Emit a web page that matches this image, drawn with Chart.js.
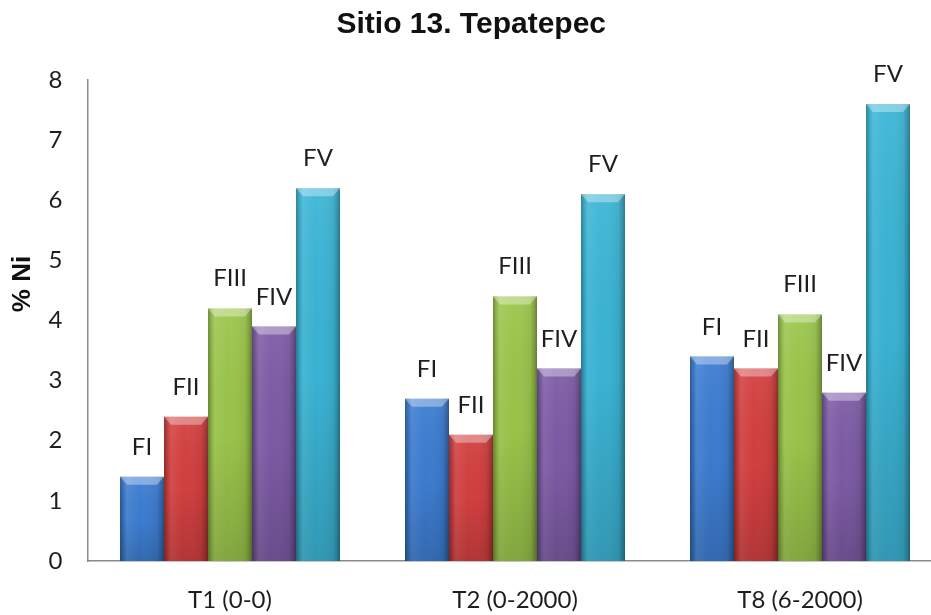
<!DOCTYPE html>
<html>
<head>
<meta charset="utf-8">
<script src="https://cdn.jsdelivr.net/npm/chart.js@4/dist/chart.umd.min.js"></script>
<style>
  html, body { margin: 0; padding: 0; background: #ffffff; overflow: hidden; }
  #wrap { width: 944px; height: 615px; }
</style>
</head>
<body>
<div id="wrap"><canvas id="chart" width="944" height="615"></canvas></div>
<script>
// Treatments on the x axis
const categories = ['T1 (0-0)', 'T2 (0-2000)', 'T8 (6-2000)'];

// Nickel fractions (% Ni) per treatment
const fractionNames = ['FI', 'FII', 'FIII', 'FIV', 'FV'];
const FI   = [1.4, 2.7, 3.4];
const FII  = [2.4, 2.1, 3.2];
const FIII = [4.2, 4.4, 4.1];
const FIV  = [3.9, 3.2, 2.8];
const FV   = [6.2, 6.1, 7.6];

// Y axis range
const yMin = 0;
const yMax = 8;
const yStep = 1;

const seriesValues = [FI, FII, FIII, FIV, FV];
const seriesColors = ['#3C7DD2', '#D43F3F', '#9BC64A', '#7D5BA6', '#3AB5D6'];

const labelFont = '24px Lato, "Open Sans", sans-serif';

// Gives each bar a rounded, bevelled look on top of its flat fill
const bevelPlugin = {
  id: 'bevel',
  afterDatasetsDraw(chart) {
    const ctx = chart.ctx;
    chart.data.datasets.forEach((ds, i) => {
      const meta = chart.getDatasetMeta(i);
      meta.data.forEach(el => {
        const { x, y, base, width } = el.getProps(['x', 'y', 'base', 'width'], true);
        const left = x - width / 2, right = x + width / 2;
        const h = base - y;
        ctx.save();
        // shading across the bar
        const g = ctx.createLinearGradient(left, 0, right, 0);
        g.addColorStop(0.00, 'rgba(0,0,0,0.32)');
        g.addColorStop(0.08, 'rgba(0,0,0,0.10)');
        g.addColorStop(0.16, 'rgba(255,255,255,0.08)');
        g.addColorStop(0.45, 'rgba(255,255,255,0.00)');
        g.addColorStop(0.85, 'rgba(0,0,0,0.06)');
        g.addColorStop(0.94, 'rgba(0,0,0,0.22)');
        g.addColorStop(1.00, 'rgba(0,0,0,0.38)');
        ctx.fillStyle = g;
        ctx.fillRect(left, y, width, h);
        // lighter near the top, darker towards the base
        const gv = ctx.createLinearGradient(0, y, 0, base);
        gv.addColorStop(0, 'rgba(255,255,255,0.06)');
        gv.addColorStop(0.5, 'rgba(0,0,0,0.02)');
        gv.addColorStop(1, 'rgba(0,0,0,0.16)');
        ctx.fillStyle = gv;
        ctx.fillRect(left, y, width, h);
        // bevelled top cap
        const cap = Math.min(8, h / 2);
        ctx.beginPath();
        ctx.moveTo(left, y);
        ctx.lineTo(right, y);
        ctx.lineTo(right - 7, y + cap);
        ctx.lineTo(left + 7, y + cap);
        ctx.closePath();
        ctx.fillStyle = 'rgba(255,255,255,0.35)';
        ctx.fill();
        ctx.restore();
      });
    });
  }
};

// Fraction names written above every bar
const barLabelPlugin = {
  id: 'barLabels',
  afterDatasetsDraw(chart) {
    const ctx = chart.ctx;
    ctx.save();
    ctx.font = labelFont;
    ctx.fillStyle = '#1e1e1e';
    ctx.textAlign = 'center';
    ctx.textBaseline = 'alphabetic';
    chart.data.datasets.forEach((ds, i) => {
      chart.getDatasetMeta(i).data.forEach(el => {
        ctx.fillText(ds.label, el.x, el.y - 22);
      });
    });
    ctx.restore();
  }
};

// Rotated y axis title
const yTitlePlugin = {
  id: 'yTitle',
  afterDraw(chart) {
    const ctx = chart.ctx;
    ctx.save();
    ctx.translate(23, 284);
    ctx.rotate(-Math.PI / 2);
    ctx.font = 'bold 26px "Liberation Sans", Arial, sans-serif';
    ctx.fillStyle = '#111';
    ctx.textAlign = 'center';
    ctx.textBaseline = 'middle';
    ctx.fillText('% Ni', 0, 0);
    ctx.restore();
  }
};

new Chart(document.getElementById('chart'), {
  type: 'bar',
  data: {
    labels: categories,
    datasets: fractionNames.map((name, i) => ({
      label: name,
      data: seriesValues[i],
      backgroundColor: seriesColors[i],
      borderWidth: 0,
      barPercentage: 1.0,
      categoryPercentage: 0.772
    }))
  },
  options: {
    responsive: false,
    animation: false,
    devicePixelRatio: 1,
    layout: { padding: { left: 0, right: 1.5, top: 0, bottom: 0 } },
    plugins: {
      legend: { display: false },
      tooltip: { enabled: false },
      title: {
        display: true,
        text: 'Sitio 13. Tepatepec',
        color: '#111',
        font: { family: '"Liberation Sans", Arial, sans-serif', size: 30, weight: 'bold', lineHeight: 1.2 },
        padding: { top: 7, bottom: 37 }
      }
    },
    scales: {
      x: {
        grid: { display: false, drawTicks: false },
        border: { display: true, color: '#8a8a8a', width: 1.5 },
        ticks: { color: '#1e1e1e', font: { family: 'Lato, "Open Sans", sans-serif', size: 24 }, padding: 24.6, maxRotation: 0 },
        afterFit(scale) { scale.height = 54; }
      },
      y: {
        min: yMin,
        max: yMax,
        grid: { display: false, drawTicks: false },
        border: { display: true, color: '#8a8a8a', width: 1.5 },
        ticks: { stepSize: yStep, color: '#1e1e1e', font: { family: 'Lato, "Open Sans", sans-serif', size: 24 }, padding: 25 },
        afterFit(scale) { scale.width = 87.5; }
      }
    }
  },
  plugins: [bevelPlugin, barLabelPlugin, yTitlePlugin]
});
</script>
</body>
</html>
